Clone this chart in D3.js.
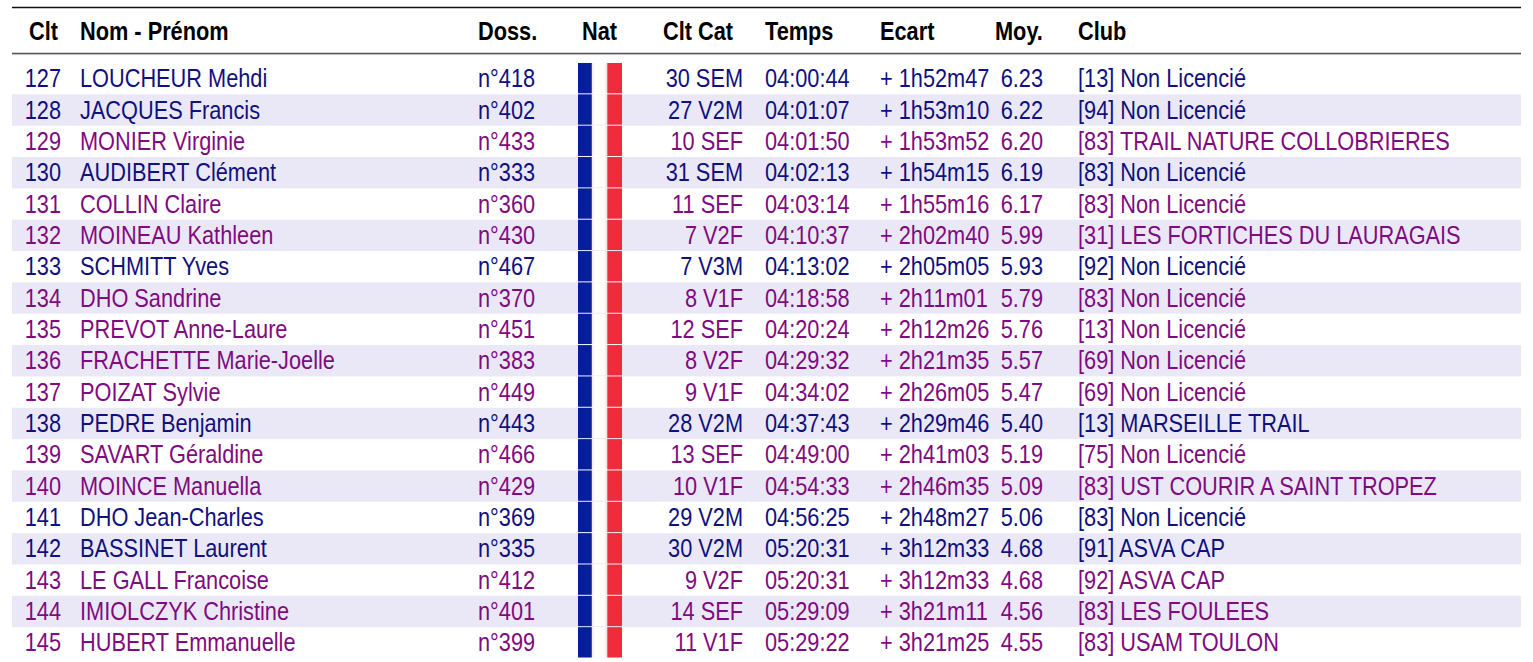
<!DOCTYPE html>
<html>
<head>
<meta charset="utf-8">
<script src="https://cdn.jsdelivr.net/npm/d3@7"></script>
<style>
  body { margin: 0; background: #fff; }
  svg text { font-family: "Liberation Sans Narrow", "Liberation Sans", Arial, sans-serif; }
</style>
</head>
<body>
<div id="chart"></div>
<script>
// Results table: rows 127-145
const ranks = [127, 128, 129, 130, 131, 132, 133, 134, 135, 136, 137, 138, 139, 140, 141, 142, 143, 144, 145];
const names = ['LOUCHEUR Mehdi', 'JACQUES Francis', 'MONIER Virginie', 'AUDIBERT Clément', 'COLLIN Claire',
  'MOINEAU Kathleen', 'SCHMITT Yves', 'DHO Sandrine', 'PREVOT Anne-Laure', 'FRACHETTE Marie-Joelle',
  'POIZAT Sylvie', 'PEDRE Benjamin', 'SAVART Géraldine', 'MOINCE Manuella', 'DHO Jean-Charles',
  'BASSINET Laurent', 'LE GALL Francoise', 'IMIOLCZYK Christine', 'HUBERT Emmanuelle'];
const sexes = ['M', 'M', 'F', 'M', 'F', 'F', 'M', 'F', 'F', 'F', 'F', 'M', 'F', 'F', 'M', 'M', 'F', 'F', 'F'];
const bibs = [418, 402, 433, 333, 360, 430, 467, 370, 451, 383, 449, 443, 466, 429, 369, 335, 412, 401, 399];
const catRanks = ['30 SEM', '27 V2M', '10 SEF', '31 SEM', '11 SEF', '7 V2F', '7 V3M', '8 V1F', '12 SEF', '8 V2F',
  '9 V1F', '28 V2M', '13 SEF', '10 V1F', '29 V2M', '30 V2M', '9 V2F', '14 SEF', '11 V1F'];
const times = ['04:00:44', '04:01:07', '04:01:50', '04:02:13', '04:03:14', '04:10:37', '04:13:02', '04:18:58',
  '04:20:24', '04:29:32', '04:34:02', '04:37:43', '04:49:00', '04:54:33', '04:56:25', '05:20:31', '05:20:31',
  '05:29:09', '05:29:22'];
const gaps = ['+ 1h52m47', '+ 1h53m10', '+ 1h53m52', '+ 1h54m15', '+ 1h55m16', '+ 2h02m40', '+ 2h05m05',
  '+ 2h11m01', '+ 2h12m26', '+ 2h21m35', '+ 2h26m05', '+ 2h29m46', '+ 2h41m03', '+ 2h46m35', '+ 2h48m27',
  '+ 3h12m33', '+ 3h12m33', '+ 3h21m11', '+ 3h21m25'];
const speeds = [6.23, 6.22, 6.20, 6.19, 6.17, 5.99, 5.93, 5.79, 5.76, 5.57, 5.47, 5.40, 5.19, 5.09, 5.06, 4.68, 4.68, 4.56, 4.55];
const clubs = ['[13] Non Licencié', '[94] Non Licencié', '[83] TRAIL NATURE COLLOBRIERES', '[83] Non Licencié',
  '[83] Non Licencié', '[31] LES FORTICHES DU LAURAGAIS', '[92] Non Licencié', '[83] Non Licencié',
  '[13] Non Licencié', '[69] Non Licencié', '[69] Non Licencié', '[13] MARSEILLE TRAIL', '[75] Non Licencié',
  '[83] UST COURIR A SAINT TROPEZ', '[83] Non Licencié', '[91] ASVA CAP', '[92] ASVA CAP', '[83] LES FOULEES',
  '[83] USAM TOULON'];
const headers = ['Clt', 'Nom - Prénom', 'Doss.', 'Nat', 'Clt Cat', 'Temps', 'Ecart', 'Moy.', 'Club'];

const width = 1533, height = 662;
const left = 12, right = 1521;
const fontSize = 25;
const squeeze = 0.87; // no narrow font installed, so squash horizontally
const sexColor = {M: '#10107e', F: '#800a80'};

const rows = ranks.map((r, i) => ({
  rank: r, name: names[i], sex: sexes[i], bib: 'n°' + bibs[i], cat: catRanks[i],
  time: times[i], gap: gaps[i], speed: speeds[i].toFixed(2), club: clubs[i], i
}));

const y = d3.scaleBand()
  .domain(ranks)
  .range([63, 658.5])
  .paddingInner(0);

const svg = d3.select('#chart').append('svg')
  .attr('width', width)
  .attr('height', height);

// flag gradient
const defs = svg.append('defs');
const grad = defs.append('linearGradient').attr('id', 'fr');
[['0%', '#001f9c'], ['30%', '#0a1f96'], ['33%', '#f4f2f8'], ['40%', '#fffef8'], ['60%', '#fffef8'],
 ['65%', '#f4e0e4'], ['68%', '#ee2c3c'], ['100%', '#ef2b3b']].forEach(s => {
  grad.append('stop').attr('offset', s[0]).attr('stop-color', s[1]);
});

// alternating backgrounds
svg.selectAll('.band')
  .data(rows.filter(d => d.i % 2 === 1))
  .enter().append('rect')
  .attr('x', left)
  .attr('y', d => y(d.rank))
  .attr('width', right - left)
  .attr('height', y.bandwidth())
  .attr('fill', '#eae8f7');

// rules
svg.append('line').attr('x1', left).attr('x2', right).attr('y1', 7.5).attr('y2', 7.5)
  .attr('stroke', '#111').attr('stroke-width', 1.3);
svg.append('line').attr('x1', left).attr('x2', right).attr('y1', 53.5).attr('y2', 53.5)
  .attr('stroke', '#555').attr('stroke-width', 1.6);
svg.append('line').attr('x1', left).attr('x2', right).attr('y1', 54.6).attr('y2', 54.6)
  .attr('stroke', '#bbb').attr('stroke-width', 0.8);

// header
const headX = [29, 80, 478, 582, 663, 765, 880, 995, 1078];
svg.selectAll('.head')
  .data(headers)
  .enter().append('text')
  .attr('transform', (d, i) => `translate(${headX[i]},31) scale(${squeeze},1)`)
  .attr('dominant-baseline', 'central')
  .attr('font-size', fontSize)
  .attr('font-weight', 'bold')
  .attr('fill', '#000')
  .text(d => d);

// flags
svg.selectAll('.flag')
  .data(rows)
  .enter().append('rect')
  .attr('x', 578)
  .attr('y', d => y(d.rank))
  .attr('width', 44)
  .attr('height', y.bandwidth() - 1)
  .attr('fill', 'url(#fr)');

// cells
const cols = [
  {key: 'rank', x: 61, anchor: 'end'},
  {key: 'name', x: 80, anchor: 'start'},
  {key: 'bib', x: 478, anchor: 'start'},
  {key: 'cat', x: 743, anchor: 'end'},
  {key: 'time', x: 765, anchor: 'start'},
  {key: 'gap', x: 880, anchor: 'start'},
  {key: 'speed', x: 1043, anchor: 'end'},
  {key: 'club', x: 1078, anchor: 'start'}
];

const rowG = svg.selectAll('.row')
  .data(rows)
  .enter().append('g')
  .attr('transform', d => `translate(0,${y(d.rank) + y.bandwidth() / 2})`);

cols.forEach(c => {
  rowG.append('text')
    .attr('transform', `translate(${c.x},0) scale(${squeeze},1)`)
    .attr('dominant-baseline', 'central')
    .attr('text-anchor', c.anchor)
    .attr('font-size', fontSize)
    .attr('fill', d => sexColor[d.sex])
    .text(d => d[c.key]);
});
</script>
</body>
</html>
